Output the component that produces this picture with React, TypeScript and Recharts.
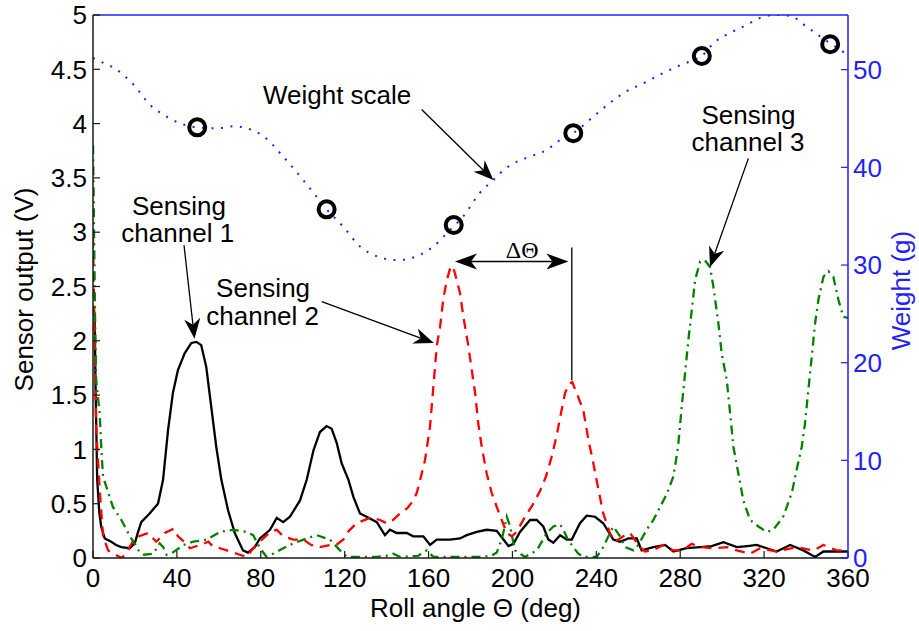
import React from "react"
import { ComposedChart, Line, XAxis, YAxis, ReferenceLine, ReferenceDot, Label } from "recharts"

// roll angle (deg) / sensor output (V)
const ch1Angle = [0, 0.8, 1.2, 2.0, 3.0, 3.9, 5.6, 8.7, 11, 13.5, 17.5, 19.9, 21.5, 23.0, 27.0, 31.0, 33.4, 35.8, 38.1, 40.5, 43.7, 46.9, 49.3, 51.6, 54.0, 56.4, 58.8, 61.2, 64.4, 67.6, 71.5, 73.9, 77.1, 79.6, 84.4, 87.6, 90.7, 93.9, 98.7, 101.9, 105.1, 108.2, 111.4, 113.8, 116.2, 118.6, 121.8, 124.2, 127.3, 130.5, 135.3, 139.2, 141.6, 144.8, 149.6, 152.7, 157.5, 160.7, 163.9, 170.2, 175.0, 178.2, 183, 187.7, 192.5, 195.7, 198.1, 200.5, 203.6, 208.4, 211.6, 214.7, 217.1, 219.5, 222.7, 225.9, 228.3, 232.2, 235.4, 239.4, 243.3, 248.1, 251.3, 255.3, 259.3, 261.6, 267.2, 272.8, 276.7, 283.1, 289.5, 295, 300.6, 307, 312, 316.5, 321.2, 326, 332.4, 338.7, 344.3, 348.3, 354, 360]
const ch1Volt = [2.3, 2.25, 1.6, 0.72, 0.42, 0.29, 0.18, 0.15, 0.12, 0.1, 0.09, 0.135, 0.24, 0.33, 0.41, 0.5, 0.72, 1.18, 1.52, 1.73, 1.885, 1.98, 1.99, 1.96, 1.76, 1.39, 1.02, 0.72, 0.44, 0.23, 0.07, 0.05, 0.1, 0.18, 0.26, 0.37, 0.33, 0.38, 0.53, 0.72, 0.99, 1.16, 1.215, 1.19, 1.06, 0.87, 0.72, 0.56, 0.41, 0.38, 0.33, 0.21, 0.26, 0.23, 0.23, 0.2, 0.2, 0.12, 0.17, 0.17, 0.18, 0.21, 0.24, 0.26, 0.25, 0.17, 0.11, 0.13, 0.24, 0.35, 0.35, 0.29, 0.17, 0.14, 0.21, 0.17, 0.17, 0.32, 0.39, 0.38, 0.32, 0.17, 0.15, 0.18, 0.18, 0.07, 0.1, 0.12, 0.06, 0.09, 0.1, 0.11, 0.145, 0.1, 0.11, 0.12, 0.09, 0.06, 0.12, 0.07, 0.01, 0.06, 0.06, 0.06]

const ch2Angle = [0, 0.6, 1.5, 3.2, 4.0, 4.8, 7.2, 9.7, 13.7, 16, 19.2, 22, 26.2, 30.2, 34.2, 38.6, 40.5, 42.3, 46.3, 51, 55, 57, 60.6, 65.3, 70, 73.3, 76.4, 81.2, 84.5, 87.6, 90.7, 95.5, 100.3, 104, 108.2, 113, 116, 119.4, 122, 125.7, 132.1, 136.9, 140, 143, 146.4, 150, 152.7, 154.4, 156, 158.3, 160.7, 162.3, 163.9, 165.5, 167, 168.6, 170.2, 171.5, 172.6, 175, 176.6, 179, 180.6, 182.2, 183.7, 185.4, 187.7, 190.1, 192.5, 194.9, 197.3, 199.7, 202, 206, 210, 213.2, 216, 218.5, 221, 223, 225.1, 227, 228.5, 230.6, 233.8, 236.2, 238.6, 241, 243.3, 246.5, 248.9, 252.9, 256.1, 260.8, 263.2, 267, 271.9, 276.7, 281, 285.5, 290, 295.8, 302.2, 307, 313.3, 318.1, 326, 335.5, 343.5, 348.3, 354.6, 360]
const ch2Volt = [2.95, 2.2, 1.2, 0.63, 0.41, 0.2, 0.07, 0.04, 0.0, 0.05, 0.16, 0.2, 0.23, 0.15, 0.23, 0.27, 0.2, 0.17, 0.09, 0.12, 0.15, 0.11, 0.09, 0.06, 0.03, 0.01, 0.09, 0.18, 0.24, 0.26, 0.2, 0.17, 0.17, 0.12, 0.1, 0.12, 0.12, 0.17, 0.25, 0.32, 0.37, 0.35, 0.32, 0.35, 0.41, 0.46, 0.53, 0.6, 0.72, 0.9, 1.21, 1.58, 1.95, 2.13, 2.38, 2.55, 2.66, 2.69, 2.62, 2.44, 2.22, 1.95, 1.73, 1.52, 1.24, 1.02, 0.78, 0.6, 0.47, 0.35, 0.23, 0.2, 0.24, 0.38, 0.5, 0.62, 0.75, 0.92, 1.12, 1.32, 1.52, 1.6, 1.62, 1.52, 1.36, 1.09, 0.87, 0.63, 0.41, 0.23, 0.15, 0.2, 0.23, 0.1, 0.06, 0.07, 0.12, 0.07, 0.07, 0.13, 0.1, 0.09, 0.1, 0.07, 0.04, 0.09, 0.06, 0.1, 0.07, 0.12, 0.07, 0.07]

const ch3Angle = [0, 0.5, 1.0, 1.5, 3.2, 4.0, 4.8, 6.3, 9.5, 13.5, 16.0, 17.5, 19.9, 22, 24.3, 28.8, 31.8, 33.5, 35.1, 38, 43.1, 47.8, 54.2, 60.6, 66.9, 73.3, 76.4, 79.6, 82.8, 86, 90.7, 95.5, 101.9, 106.7, 113, 117.8, 121, 130.5, 135.3, 140, 143.2, 146.4, 155, 159.1, 162.3, 175, 185, 190, 192.5, 194.9, 197.3, 198.9, 201.2, 206, 211.6, 216.4, 219.5, 222.7, 224.5, 226.7, 229, 231.4, 233.8, 240.2, 243.3, 246.5, 248.1, 251.3, 253.7, 257.7, 260, 264, 267.2, 270.4, 272.8, 274.4, 276.7, 278, 279.1, 280.7, 282.3, 283.9, 285.5, 287.1, 289.5, 291.8, 294.2, 295.8, 298.2, 299.8, 302.2, 303.8, 305.4, 307.7, 310.1, 313.3, 317.3, 321.2, 324.4, 329.1, 333.2, 335.5, 337.9, 339.5, 341.1, 342.7, 344.3, 345.9, 348.3, 350.7, 353, 355.4, 357.8, 360]
const ch3Volt = [3.8, 3.0, 2.2, 1.64, 1.33, 0.99, 0.75, 0.66, 0.47, 0.35, 0.26, 0.2, 0.135, 0.06, 0.03, 0.04, 0.135, 0.1, 0.03, 0.05, 0.12, 0.15, 0.17, 0.24, 0.26, 0.24, 0.21, 0.09, 0.01, 0.04, 0.09, 0.135, 0.18, 0.21, 0.17, 0.07, 0.01, 0.01, 0.01, 0.02, 0.04, 0.01, 0.02, 0.07, 0.01, 0.01, 0.01, 0.02, 0.05, 0.17, 0.38, 0.29, 0.07, 0.01, 0.07, 0.23, 0.29, 0.31, 0.25, 0.16, 0.1, 0.04, 0.01, 0.01, 0.1, 0.23, 0.29, 0.2, 0.1, 0.07, 0.12, 0.26, 0.35, 0.47, 0.56, 0.63, 0.75, 0.9, 1.05, 1.39, 1.7, 2.01, 2.28, 2.56, 2.73, 2.74, 2.68, 2.5, 2.16, 1.88, 1.64, 1.33, 1.02, 0.78, 0.53, 0.35, 0.29, 0.24, 0.26, 0.38, 0.6, 0.81, 1.02, 1.24, 1.55, 1.85, 2.16, 2.38, 2.59, 2.64, 2.59, 2.38, 2.22, 2.21]

// weight scale (g), right axis
const weightAngle = [0, 1.8, 11.3, 19.2, 27.2, 35.1, 41.5, 49.7, 59, 66.9, 73.3, 81.2, 90.7, 98.7, 105.1, 111.4, 119.4, 127.3, 135.3, 144.8, 154.4, 162.3, 170.2, 176.6, 184.5, 190.9, 194.1, 200.4, 208.4, 216.4, 222.7, 229, 238.6, 246.5, 254.5, 262.4, 270.4, 278.3, 286.3, 290.3, 295.8, 302.2, 310.1, 318.1, 324.4, 332.4, 340.3, 346.7, 351.5, 358.6, 360]
const weightGram = [51.2, 51.0, 50.0, 48.5, 46.4, 45.2, 44.5, 44.1, 44.0, 44.2, 44.0, 43.2, 41.1, 39.1, 37.4, 35.7, 33.9, 31.9, 30.9, 30.5, 30.9, 31.9, 33.6, 35.0, 37.4, 38.7, 39.4, 40.4, 41.1, 41.8, 42.8, 43.5, 45.2, 46.6, 47.8, 48.6, 49.5, 50.3, 51.0, 51.4, 52.7, 53.6, 54.4, 55.3, 55.6, 55.5, 54.4, 53.4, 52.7, 51.7, 51.5]

const markerAngle = [49.7, 111.4, 172.0, 229.0, 290.3, 351.5]
const markerGram = [44.1, 35.7, 34.1, 43.5, 51.4, 52.6]

const angleTicks = [0, 40, 80, 120, 160, 200, 240, 280, 320, 360]
const voltTicks = [0, 0.5, 1, 1.5, 2, 2.5, 3, 3.5, 4, 4.5, 5]
const gramTicks = [0, 10, 20, 30, 40, 50]

const zip = (xs: number[], ys: number[]) => xs.map((x, i) => ({ x, v: ys[i] }))
const ch1 = zip(ch1Angle, ch1Volt)
const ch2 = zip(ch2Angle, ch2Volt)
const ch3 = zip(ch3Angle, ch3Volt)
const weight = zip(weightAngle, weightGram)
const markers = zip(markerAngle, markerGram)

// annotations, in data units of the left axis
const arrows = [
  { x1: 156.7, y1: 4.13, x2: 190.9, y2: 3.48, both: false },
  { x1: 43.4, y1: 2.88, x2: 48.4, y2: 2.02, both: false },
  { x1: 109.1, y1: 2.36, x2: 162.5, y2: 1.98, both: false },
  { x1: 312.5, y1: 3.68, x2: 294.2, y2: 2.68, both: false },
  { x1: 172.6, y1: 2.73, x2: 226.7, y2: 2.73, both: true },
]
const notes = [
  { x: 116.4, y: 4.18, text: "Weight scale" },
  { x: 41.0, y: 3.16, text: "Sensing" },
  { x: 40.4, y: 2.91, text: "channel 1" },
  { x: 81.1, y: 2.4, text: "Sensing" },
  { x: 80.9, y: 2.15, text: "channel 2" },
  { x: 312.5, y: 4.0, text: "Sensing" },
  { x: 312.3, y: 3.75, text: "channel 3" },
]

const SANS = '"Liberation Sans", Arial, Helvetica, sans-serif'
const AXIS = "#1a1a1a"
const BLUE = "#1f1fff"

function head(tx: number, ty: number, ux: number, uy: number, L: number, W: number) {
  const bx = tx - ux * L
  const by = ty - uy * L
  const nx = tx - ux * (L - 6)
  const ny = ty - uy * (L - 6)
  const px = -uy
  const py = ux
  const pts = [
    [tx, ty],
    [bx + px * W, by + py * W],
    [nx, ny],
    [bx - px * W, by - py * W],
  ]
  return { poly: pts.map((p) => p.join(",")).join(" "), nx, ny }
}

const arrowShape = (both: boolean) => (p: any) => {
  const { x1, y1, x2, y2 } = p
  const len = Math.hypot(x2 - x1, y2 - y1) || 1
  const ux = (x2 - x1) / len
  const uy = (y2 - y1) / len
  const L = both ? 22 : 20
  const h2 = head(x2, y2, ux, uy, L, 8)
  const h1 = both ? head(x1, y1, -ux, -uy, L, 8) : null
  return (
    <g>
      <line x1={h1 ? h1.nx : x1} y1={h1 ? h1.ny : y1} x2={h2.nx} y2={h2.ny} stroke="#000" strokeWidth={1.3} />
      <polygon points={h2.poly} fill="#000" />
      {h1 && <polygon points={h1.poly} fill="#000" />}
    </g>
  )
}

const noteShape = (text: string) => (p: any) => (
  <text x={p.cx} y={p.cy} textAnchor="middle" fontSize={26} fill="#000" fontFamily={SANS}>
    {text}
  </text>
)

const deltaShape = (p: any) => (
  <text x={p.cx} y={p.cy} textAnchor="middle" fontSize={24} fill="#000" fontFamily='"Liberation Serif", "Times New Roman", serif'>
    ΔΘ
  </text>
)

const leftTitle = (p: any) => {
  const vb = p.viewBox || { x: 0, y: 15, width: 93, height: 543 }
  const x = vb.x + 33
  const y = vb.y + vb.height / 2 + 3
  return (
    <text x={x} y={y} transform={`rotate(-90, ${x}, ${y})`} textAnchor="middle" fontSize={26} fill="#000" fontFamily={SANS}>
      Sensor output (V)
    </text>
  )
}

const rightTitle = (p: any) => {
  const vb = p.viewBox || { x: 848, y: 15, width: 71, height: 543 }
  const x = vb.x + 62
  const y = vb.y + vb.height / 2 + 4
  return (
    <text x={x} y={y} transform={`rotate(-90, ${x}, ${y})`} textAnchor="middle" fontSize={26} fill={BLUE} fontFamily={SANS}>
      Weight (g)
    </text>
  )
}

const bottomTitle = (p: any) => {
  const vb = p.viewBox || { x: 93, y: 558, width: 755, height: 73 }
  return (
    <text x={vb.x + vb.width / 2 + 5} y={vb.y + 59} textAnchor="middle" fontSize={26} fill="#000" fontFamily={SANS}>
      Roll angle Θ (deg)
    </text>
  )
}

export default function App() {
  return (
    <div style={{ position: "absolute", left: 0, top: 0, width: 919, height: 631, background: "#fff", fontFamily: SANS }}>
      <ComposedChart width={919} height={631} margin={{ top: 0, right: 0, bottom: 0, left: 0 }}>
        <XAxis
          xAxisId="top"
          orientation="top"
          type="number"
          dataKey="x"
          domain={[0, 360]}
          ticks={angleTicks}
          height={15}
          tick={false}
          tickSize={-7}
          stroke={BLUE}
          axisLine={{ stroke: BLUE, strokeWidth: 1.5 }}
          tickLine={{ stroke: BLUE, strokeWidth: 1.2 }}
          allowDataOverflow
        />
        <XAxis
          type="number"
          dataKey="x"
          domain={[0, 360]}
          ticks={angleTicks}
          interval={0}
          height={73}
          tickSize={-7}
          tickMargin={17.5}
          tick={{ fontSize: 26, fill: "#000" }}
          axisLine={{ stroke: AXIS, strokeWidth: 1.5 }}
          tickLine={{ stroke: AXIS, strokeWidth: 1.2 }}
          allowDataOverflow
        >
          <Label content={bottomTitle} />
        </XAxis>
        <YAxis
          type="number"
          domain={[0, 5]}
          ticks={voltTicks}
          interval={0}
          width={93}
          tickSize={-7}
          tickMargin={13}
          tick={{ fontSize: 26, fill: "#000" }}
          axisLine={{ stroke: AXIS, strokeWidth: 1.5 }}
          tickLine={{ stroke: AXIS, strokeWidth: 1.2 }}
          allowDataOverflow
        >
          <Label content={leftTitle} />
        </YAxis>
        <YAxis
          yAxisId="right"
          orientation="right"
          type="number"
          domain={[0, 55.6]}
          ticks={gramTicks}
          interval={0}
          width={71}
          tickSize={-7}
          tickMargin={12}
          tick={{ fontSize: 26, fill: BLUE }}
          axisLine={{ stroke: BLUE, strokeWidth: 1.5 }}
          tickLine={{ stroke: BLUE, strokeWidth: 1.2 }}
          allowDataOverflow
        >
          <Label content={rightTitle} />
        </YAxis>

        <Line data={ch1} dataKey="v" type="linear" stroke="#000" strokeWidth={2.3} dot={false} isAnimationActive={false} />
        <Line data={ch2} dataKey="v" type="linear" stroke="#ff0000" strokeWidth={2.3} strokeDasharray="10 7" dot={false} isAnimationActive={false} />
        <Line data={ch3} dataKey="v" type="linear" stroke="#008000" strokeWidth={2.3} strokeDasharray="9 5 2 5" dot={false} isAnimationActive={false} />
        <Line yAxisId="right" data={weight} dataKey="v" type="monotone" stroke={BLUE} strokeWidth={2} strokeDasharray="2 7.5" dot={false} isAnimationActive={false} />
        <Line
          yAxisId="right"
          data={markers}
          dataKey="v"
          stroke="none"
          dot={{ r: 8, stroke: "#000", strokeWidth: 4, fill: "none" }}
          isAnimationActive={false}
        />

        {arrows.map((a, i) => (
          <ReferenceLine key={`a${i}`} segment={[{ x: a.x1, y: a.y1 }, { x: a.x2, y: a.y2 }]} shape={arrowShape(a.both)} />
        ))}
        <ReferenceLine segment={[{ x: 228.3, y: 2.86 }, { x: 228.3, y: 1.64 }]} stroke="#000" strokeWidth={1.3} />
        {notes.map((n, i) => (
          <ReferenceDot key={`n${i}`} x={n.x} y={n.y} r={0} shape={noteShape(n.text)} />
        ))}
        <ReferenceDot x={204.6} y={2.76} r={0} shape={deltaShape} />
      </ComposedChart>
    </div>
  )
}
